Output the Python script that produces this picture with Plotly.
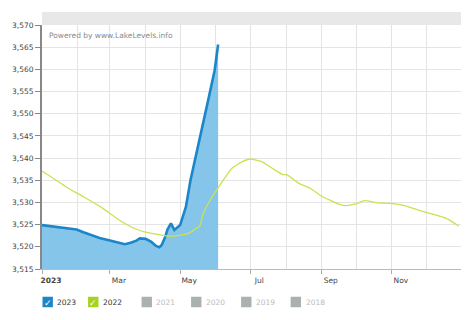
import plotly.graph_objects as go

# 2023 lake level (ft)
dates_2023 = ["2023-01-01", "2023-01-11", "2023-01-18", "2023-01-26", "2023-01-31",
              "2023-02-06", "2023-02-13", "2023-02-20", "2023-03-01", "2023-03-08",
              "2023-03-14", "2023-03-19", "2023-03-24", "2023-03-27", "2023-04-01",
              "2023-04-06", "2023-04-10", "2023-04-13", "2023-04-15", "2023-04-18",
              "2023-04-20", "2023-04-23", "2023-04-26", "2023-05-01", "2023-05-03",
              "2023-05-06", "2023-05-10", "2023-05-16", "2023-05-22", "2023-05-26",
              "2023-05-31", "2023-06-03"]
level_2023 = [3524.9, 3524.6, 3524.3, 3524.2, 3523.9,
              3523.3, 3522.6, 3522.0, 3521.4, 3521.0,
              3520.6, 3520.9, 3521.4, 3521.9, 3521.8,
              3521.1, 3520.2, 3519.9, 3520.4, 3522.2,
              3523.9, 3525.3, 3523.8, 3524.9, 3526.4,
              3529.0, 3535.0, 3541.8, 3548.6, 3553.8,
              3559.8, 3565.6]

# 2022 lake level plotted on the same calendar
dates_2022 = ["2023-01-01", "2023-01-11", "2023-01-22", "2023-02-06", "2023-02-21",
              "2023-03-07", "2023-03-21", "2023-04-01", "2023-04-16", "2023-04-25",
              "2023-05-09", "2023-05-14", "2023-05-18", "2023-05-21", "2023-05-27",
              "2023-06-04", "2023-06-15", "2023-06-24", "2023-07-01", "2023-07-11",
              "2023-07-20", "2023-07-29", "2023-08-02", "2023-08-12", "2023-08-22",
              "2023-09-01", "2023-09-16", "2023-09-21", "2023-09-30", "2023-10-08",
              "2023-10-20", "2023-10-31", "2023-11-12", "2023-11-26", "2023-12-14",
              "2023-12-20", "2023-12-29"]
level_2022 = [3537.1, 3535.4, 3533.5, 3531.3, 3529.0,
              3526.4, 3524.3, 3523.3, 3522.6, 3522.4,
              3523.1, 3524.0, 3524.6, 3527.5, 3530.5,
              3533.7, 3537.7, 3539.2, 3539.8, 3539.2,
              3537.7, 3536.3, 3536.2, 3534.3, 3533.2,
              3531.4, 3529.6, 3529.3, 3529.6, 3530.4,
              3529.9, 3529.8, 3529.3, 3528.1, 3526.8,
              3526.2, 3524.7]

x_tick_vals = ["2023-01-01", "2023-03-01", "2023-05-01", "2023-07-01", "2023-09-01", "2023-11-01"]
x_tick_text = ["<b>2023</b>", "Mar", "May", "Jul", "Sep", "Nov"]
y_tick_vals = [3515, 3520, 3525, 3530, 3535, 3540, 3545, 3550, 3555, 3560, 3565, 3570]

legend_years = ["2023", "2022", "2021", "2020", "2019", "2018"]
legend_active = [True, True, False, False, False, False]
legend_colors = ["#1b87c9", "#a8d21c", "#abb1af", "#abb1af", "#abb1af", "#abb1af"]

FONT = "DejaVu Sans, Verdana, sans-serif"
W, H = 474, 320
ML, MR, MT, MB = 38, 13, 25, 51
PW, PH = W - ML - MR, H - MT - MB


def px_x(px):
    return (px - ML) / PW


def px_y(py):
    return (H - MB - py) / PH


fig = go.Figure()

fig.add_trace(go.Scatter(
    x=dates_2023, y=level_2023, mode="lines", fill="tozeroy",
    fillcolor="#86c5ea", line=dict(color="#1b87c9", width=2.6),
    name="2023", showlegend=False, hoverinfo="x+y"))

fig.add_trace(go.Scatter(
    x=dates_2022, y=level_2022, mode="lines",
    line=dict(color="#c9e24f", width=1.3, shape="spline", smoothing=0.4),
    name="2022", showlegend=False, hoverinfo="x+y"))

# top header band
fig.add_shape(type="rect", xref="paper", yref="paper",
              x0=0, x1=1.0, y0=1.0, y1=1.0 + 13 / PH,
              fillcolor="#e8e8e8", line=dict(width=0), layer="below")

fig.add_annotation(text="Powered by www.LakeLevels.info", xref="paper", yref="paper",
                   x=0.012, y=0.985, xanchor="left", yanchor="top", showarrow=False,
                   font=dict(size=7.5, color="#8a8a8a", family=FONT))

# checkbox-style legend
box_left = [38.5, 84.5, 138.5, 188.5, 239, 289]
box_size = 10.5
box_cy = 302
for yr, act, col, bx in zip(legend_years, legend_active, legend_colors, box_left):
    fig.add_shape(type="rect", xref="paper", yref="paper",
                  x0=px_x(bx), x1=px_x(bx + box_size),
                  y0=px_y(box_cy + box_size / 2), y1=px_y(box_cy - box_size / 2),
                  fillcolor=col, line=dict(width=0))
    if act:
        fig.add_annotation(text="<b>✓</b>", xref="paper", yref="paper",
                           x=px_x(bx + box_size / 2), y=px_y(box_cy + 0.5),
                           xanchor="center", yanchor="middle", showarrow=False,
                           font=dict(size=9, color="white", family=FONT))
    fig.add_annotation(text=yr, xref="paper", yref="paper",
                       x=px_x(bx + box_size + 2.5), y=px_y(box_cy),
                       xanchor="left", yanchor="middle", showarrow=False,
                       font=dict(size=7.5, color="#333" if act else "#bbbbbb", family=FONT))

fig.update_layout(
    width=W, height=H,
    margin=dict(l=ML, r=MR, t=MT, b=MB),
    paper_bgcolor="white", plot_bgcolor="white",
    font=dict(family=FONT, size=7.5, color="#444"),
    showlegend=False,
    hovermode="x",
)

fig.update_xaxes(
    type="date", range=["2023-01-01", "2023-12-31"],
    tickvals=x_tick_vals, ticktext=x_tick_text,
    ticks="outside", ticklen=4, tickcolor="#aaa", ticklabelshift=9,
    showgrid=True, gridcolor="#e4e4e4", gridwidth=1,
    minor=dict(dtick="M1", tick0="2023-01-01", showgrid=True, gridcolor="#e4e4e4", ticks=""),
    showline=True, linecolor="#bbb", linewidth=1,
    zeroline=False, fixedrange=True,
)
fig.update_yaxes(
    range=[3515, 3570], tickvals=y_tick_vals, tickformat=",",
    ticks="outside", ticklen=5, tickcolor="#888",
    showgrid=True, gridcolor="#e4e4e4", gridwidth=1,
    showline=True, linecolor="#888", linewidth=2,
    zeroline=False, fixedrange=True,
)

fig.write_html("out.html")
